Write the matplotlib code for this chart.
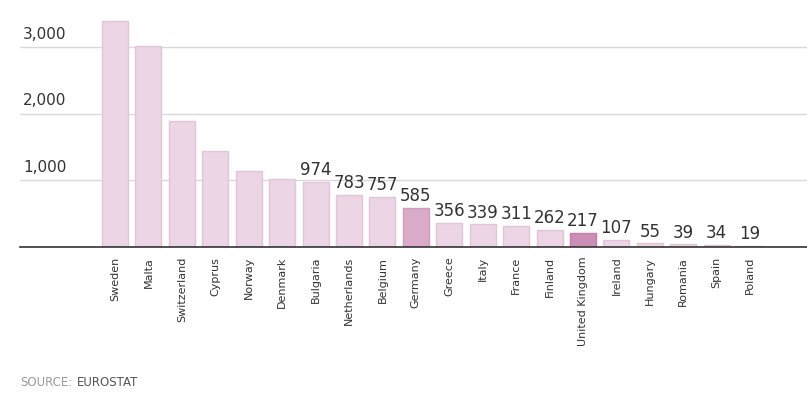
import matplotlib.pyplot as plt

countries = ["Sweden", "Malta", "Switzerland", "Cyprus", "Norway", "Denmark", "Bulgaria",
             "Netherlands", "Belgium", "Germany", "Greece", "Italy", "France", "Finland",
             "United Kingdom", "Ireland", "Hungary", "Romania", "Spain", "Poland"]
values = [3390, 3015, 1890, 1440, 1140, 1020, 974, 783, 757, 585, 356, 339, 311, 262,
          217, 107, 55, 39, 34, 19]
labeled = ["Bulgaria", "Netherlands", "Belgium", "Germany", "Greece", "Italy", "France",
           "Finland", "United Kingdom", "Ireland", "Hungary", "Romania", "Spain", "Poland"]
yticks = [1000, 2000, 3000]
ytick_labels = ["1,000", "2,000", "3,000"]

base_col = "#ecd5e5"
edge_col = "#e2c5d9"
highlight = {"Germany": ("#d9abc9", "#cf9dbd"), "United Kingdom": ("#cc8db6", "#c07fa9")}

fig = plt.figure(figsize=(8.07, 3.94), dpi=100)
ax = fig.add_axes([20/807, 1-247/394, 787/807, 230/394])

x = list(range(len(countries)))
fcs = [highlight.get(c, (base_col, edge_col))[0] for c in countries]
ecs = [highlight.get(c, (base_col, edge_col))[1] for c in countries]
ax.bar(x, values, width=0.78, color=fcs, edgecolor=ecs, linewidth=1, zorder=2)

for xi, c, v in zip(x, countries, values):
    if c in labeled:
        ax.annotate(str(v), (xi, v), xytext=(0, 2), textcoords="offset points",
                    ha="center", va="bottom", fontsize=12, color="#333333", zorder=3)

ax.set_xlim(-2.84, 20.7)
ax.set_ylim(0, 3450)
ax.set_yticks(yticks)
ax.set_yticklabels([])
ax.tick_params(axis="y", length=0)
ax.grid(axis="y", color="#d9d9d9", linewidth=1, zorder=0)
for yv, lab in zip(yticks, ytick_labels):
    ax.text(0.004, yv + 80, lab, transform=ax.get_yaxis_transform(), ha="left", va="bottom",
            fontsize=11, color="#333333")

ax.set_xticks(x)
ax.set_xticklabels(countries, rotation=90, fontsize=8, color="#333333")
ax.tick_params(axis="x", length=0, pad=7)

for s in ["top", "right", "left"]:
    ax.spines[s].set_visible(False)
ax.spines["bottom"].set_color("#333333")
ax.spines["bottom"].set_linewidth(1.2)
ax.spines["bottom"].set_zorder(4)

t1 = fig.text(20/807, 1-382/394, "SOURCE:", fontsize=8.5, color="#9a9a9a", va="center", ha="left")
fig.canvas.draw()
fig.text(0, 0, "")
ax.annotate("EUROSTAT", xy=(1, 0.5), xycoords=t1, xytext=(3, 0), textcoords="offset points",
            fontsize=8.5, color="#555555", va="center", ha="left", annotation_clip=False)

fig.savefig("out.png", dpi=100)
